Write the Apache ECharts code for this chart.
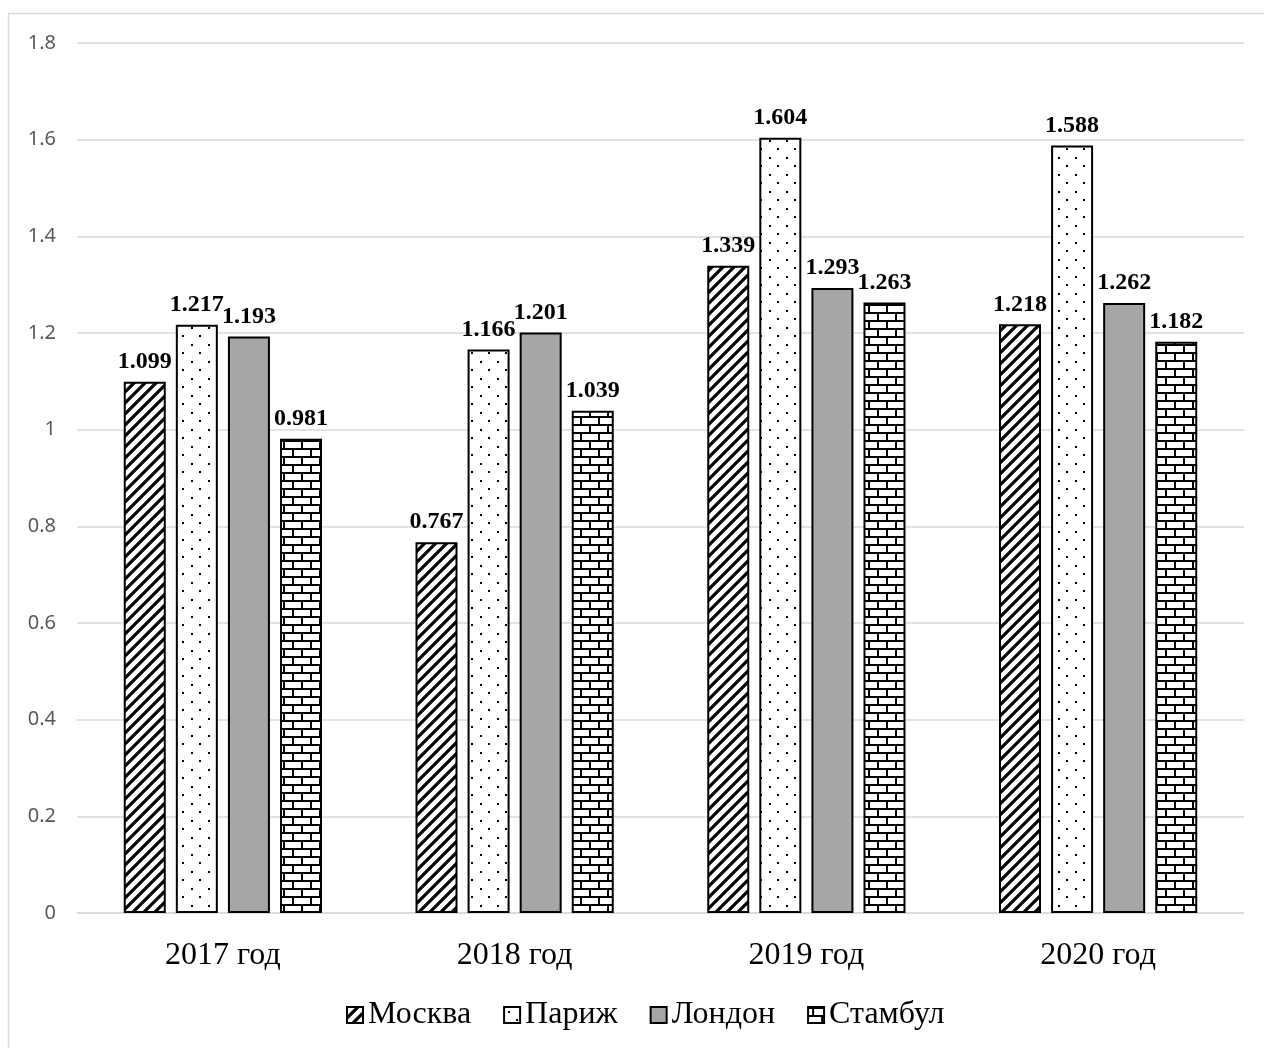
<!DOCTYPE html>
<html><head><meta charset="utf-8">
<script src="https://cdn.jsdelivr.net/npm/echarts@6/dist/echarts.min.js"></script>
<style>html,body{margin:0;padding:0;background:#fff}#c{width:1264px;height:1048px}</style>
</head><body><div id="c"></div>
<script>
const categories = ['2017 год', '2018 год', '2019 год', '2020 год'];
const seriesNames = ['Москва', 'Париж', 'Лондон', 'Стамбул'];
const moscow = [1.099, 0.767, 1.339, 1.218];
const paris = [1.217, 1.166, 1.604, 1.588];
const london = [1.193, 1.201, 1.293, 1.262];
const istanbul = [0.981, 1.039, 1.263, 1.182];
const yTicks = { min: 0, max: 1.8, interval: 0.2 };

function tile(w, h, draw) {
  const c = document.createElement('canvas');
  c.width = w; c.height = h;
  const g = c.getContext('2d');
  g.fillStyle = '#fff'; g.fillRect(0, 0, w, h);
  draw(g);
  return { image: c, repeat: 'repeat' };
}
const hatch = tile(11, 11, g => {
  g.strokeStyle = '#000'; g.lineWidth = 3.2;
  g.beginPath();
  g.moveTo(-2, 13); g.lineTo(13, -2);
  g.moveTo(-13, 13); g.lineTo(2, -2);
  g.moveTo(9, 13); g.lineTo(24, -2);
  g.stroke();
});
const dots = tile(17, 17, g => {
  g.fillStyle = '#000';
  g.fillRect(4, 4, 2, 2);
  g.fillRect(12, 12, 2, 2);
});
const brick = tile(18, 16, g => {
  g.fillStyle = '#000';
  g.fillRect(0, 0, 18, 2);
  g.fillRect(0, 8, 18, 2);
  g.fillRect(4, 0, 2, 8);
  g.fillRect(13, 8, 2, 8);
});
const fills = [hatch, dots, '#a6a6a6', brick];
const datasets = [moscow, paris, london, istanbul];

const chart = echarts.init(document.getElementById('c'), null, { renderer: 'canvas' });
chart.setOption({
  animation: false,
  backgroundColor: '#fff',
  graphic: [{
    type: 'rect', shape: { x: 8.5, y: 13.5, width: 1400, height: 1200 },
    style: { fill: 'none', stroke: '#d9d9d9', lineWidth: 1.5 }, silent: true, z: -1
  }],
  grid: { left: 77, right: 20, top: 43, bottom: 135 },
  legend: {
    bottom: 12, left: 341,
    icon: 'rect',
    itemWidth: 16, itemHeight: 16, itemGap: 32,
    textStyle: { fontFamily: 'Liberation Serif', fontSize: 32, color: '#000' },
    data: seriesNames
  },
  xAxis: {
    type: 'category', data: categories,
    axisTick: { show: false },
    axisLine: { lineStyle: { color: '#d9d9d9', width: 1.5 } },
    axisLabel: { fontFamily: 'Liberation Serif', fontSize: 32, color: '#000', margin: 27 }
  },
  yAxis: {
    type: 'value', min: yTicks.min, max: yTicks.max, interval: yTicks.interval,
    axisLine: { show: false }, axisTick: { show: false },
    splitLine: { lineStyle: { color: '#d9d9d9', width: 1.5 } },
    axisLabel: { fontFamily: 'Noto Sans', fontSize: 20, color: '#595959', margin: 21,
      formatter: v => String(Math.round(v * 10) / 10) }
  },
  series: seriesNames.map((n, i) => ({
    name: n, type: 'bar', data: datasets[i],
    barWidth: 42, barGap: '24%',
    itemStyle: { color: fills[i], borderColor: '#000', borderWidth: 2 },
    label: { show: true, position: 'top', distance: 8,
      fontFamily: 'Liberation Serif', fontWeight: 'bold', fontSize: 24, color: '#000',
      formatter: p => p.value.toFixed(3) }
  }))
});
</script></body></html>
